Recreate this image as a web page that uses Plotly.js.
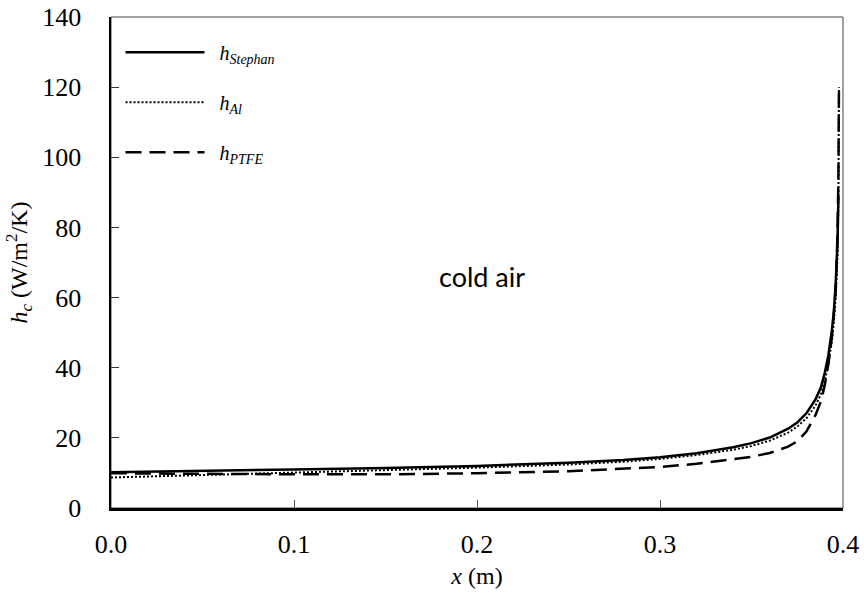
<!DOCTYPE html>
<html>
<head>
<meta charset="utf-8">
<script src="https://cdn.plot.ly/plotly-3.0.1.min.js"></script>
<style>
  html, body { margin: 0; padding: 0; background: #fff; }
  #chart { width: 864px; height: 595px; }
</style>
</head>
<body>
<div id="chart"></div>
<script>
// Convective heat transfer coefficient along the plate (cold air side)
const xStephan = [0, 0.02, 0.05, 0.1, 0.15, 0.2, 0.25, 0.28, 0.3, 0.32, 0.34, 0.35, 0.36, 0.37, 0.375, 0.38, 0.385, 0.388, 0.39, 0.392, 0.394, 0.395, 0.396, 0.397, 0.3975];
const hStephan = [10.2, 10.4, 10.6, 11.0, 11.4, 12.0, 12.9, 13.7, 14.5, 15.6, 17.3, 18.5, 20.1, 22.6, 24.4, 27.0, 31.0, 34.5, 38.5, 43.5, 51, 56, 64, 76, 89];

const xAl = [0, 0.02, 0.05, 0.1, 0.15, 0.2, 0.25, 0.28, 0.3, 0.32, 0.34, 0.35, 0.36, 0.37, 0.375, 0.38, 0.385, 0.388, 0.39, 0.392, 0.394, 0.395, 0.396, 0.397, 0.3975, 0.3978];
const hAl = [8.7, 9.0, 9.5, 10.2, 10.8, 11.5, 12.4, 13.2, 14.0, 15.1, 16.6, 17.7, 19.2, 21.5, 23.2, 25.6, 29.2, 32.5, 36, 41, 48, 53, 60, 72, 88, 120];

const xPTFE = [0, 0.02, 0.05, 0.1, 0.15, 0.2, 0.25, 0.28, 0.3, 0.32, 0.34, 0.35, 0.36, 0.37, 0.375, 0.38, 0.385, 0.388, 0.39, 0.392, 0.394, 0.395, 0.396, 0.397, 0.3975, 0.3978];
const hPTFE = [9.9, 9.8, 9.7, 9.6, 9.6, 9.9, 10.5, 11.1, 11.7, 12.6, 13.8, 14.6, 15.7, 17.5, 19.0, 21.8, 26.5, 30.5, 35, 41, 49, 55, 62, 78, 95, 120];

const seriesNames = ['&nbsp;&nbsp;<i>h<sub>Stephan</sub></i>', '&nbsp;&nbsp;<i>h<sub>Al</sub></i>', '&nbsp;&nbsp;<i>h<sub>PTFE</sub></i>'];

const xTicks = [0, 0.1, 0.2, 0.3, 0.4];
const xTickText = ['0.0', '0.1', '0.2', '0.3', '0.4'];
const yTicks = [0, 20, 40, 60, 80, 100, 120, 140];

const serif = 'Liberation Serif';

const traces = [
  { x: xStephan, y: hStephan, name: seriesNames[0], legendgroup: 'a',
    mode: 'lines', line: { color: '#000', width: 2.5, dash: 'solid' } },
  { x: xAl, y: hAl, name: seriesNames[1], legendgroup: 'b',
    mode: 'lines', line: { color: '#000', width: 2, dash: '2px,2px' } },
  { x: xPTFE, y: hPTFE, name: seriesNames[2], legendgroup: 'c',
    mode: 'lines', line: { color: '#000', width: 2.5, dash: '16px,8px' } }
];

const layout = {
  width: 864, height: 595,
  margin: { l: 111, r: 21, t: 17, b: 87 },
  paper_bgcolor: '#fff', plot_bgcolor: '#fff',
  font: { family: serif, size: 26, color: '#000' },
  showlegend: true,
  legend: {
    x: 0.013, y: 0.968, xanchor: 'left', yanchor: 'top',
    bgcolor: 'rgba(0,0,0,0)', borderwidth: 0,
    font: { family: serif, size: 20, color: '#000' },
    itemwidth: 79, tracegroupgap: 21,
    itemclick: false, itemdoubleclick: false
  },
  xaxis: {
    range: [0, 0.4], tickmode: 'array', tickvals: xTicks, ticktext: xTickText,
    ticks: 'inside', ticklen: 8, tickwidth: 1, tickcolor: '#555',
    showline: true, linecolor: '#000', linewidth: 2.5,
    showgrid: false, zeroline: false,
    ticklabelstandoff: 11,
    tickfont: { family: serif, size: 26, color: '#000' },
    title: { text: '<i>x</i> (m)', font: { family: serif, size: 24, color: '#000' }, standoff: 10 }
  },
  yaxis: {
    range: [0, 140], tickmode: 'array', tickvals: yTicks,
    ticks: 'inside', ticklen: 8, tickwidth: 1, tickcolor: '#333',
    showline: true, linecolor: '#000', linewidth: 2.5,
    showgrid: false, zeroline: false,
    ticklabelstandoff: 22,
    tickfont: { family: serif, size: 26, color: '#000' },
    title: { text: '<i>h<sub>c</sub></i> (W/m<sup>2</sup>/K)', font: { family: serif, size: 24, color: '#000' }, standoff: 8 }
  },
  shapes: [
    { type: 'rect', xref: 'paper', yref: 'paper', x0: 0, x1: 1, y0: 0, y1: 1,
      line: { color: '#444', width: 1 }, layer: 'below' }
  ],
  annotations: [
    { x: 0.203, y: 66, xref: 'x', yref: 'y', text: 'cold air', showarrow: false,
      xanchor: 'center', yanchor: 'middle',
      font: { family: 'Lato', size: 27, color: '#000' } }
  ]
};

Plotly.newPlot('chart', traces, layout, { displayModeBar: false, staticPlot: true });
</script>
</body>
</html>
